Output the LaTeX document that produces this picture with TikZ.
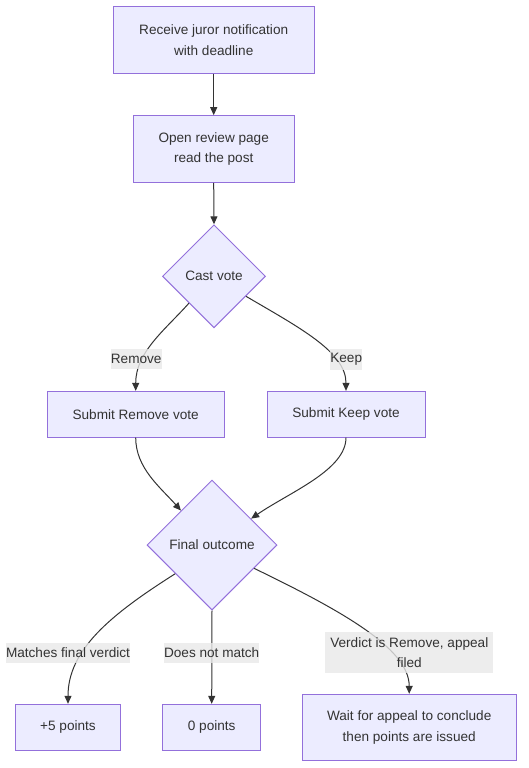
\documentclass[tikz,border=0pt]{standalone}
\usepackage{fontspec}
\setmainfont{Liberation Sans}
\usetikzlibrary{shapes.geometric,arrows.meta}
\definecolor{nodefill}{HTML}{ECECFF}
\definecolor{nodeline}{HTML}{9370DB}
\definecolor{ink}{HTML}{333333}
\definecolor{lblfill}{HTML}{E8E8E8}
\begin{document}
\begin{tikzpicture}[x=1pt,y=-1pt,
  every node/.style={font=\fontsize{13.6}{20.4}\selectfont, text=ink},
  box/.style={draw=nodeline, fill=nodefill, line width=1pt, inner sep=0pt, align=center},
  dia/.style={diamond, shape aspect=1, draw=nodeline, fill=nodefill, line width=1pt, inner sep=0pt},
  lbl/.style={fill=lblfill, fill opacity=0.8, text opacity=1, inner sep=0pt, align=center},
  conn/.style={draw=ink, line width=1pt, -{Triangle[length=8pt,width=7pt]}}
]
\useasboundingbox (0,0) rectangle (528,768);

\node[box, minimum width=200.7pt, minimum height=66.3pt] (A) at (213.7,40) {Receive juror notification\\with deadline};
\node[box, minimum width=161.3pt, minimum height=66.6pt] (B) at (213.7,149) {Open review page\\read the post};
\node[dia, minimum width=103pt, minimum height=103pt] (C) at (214,276.3) {Cast vote};
\node[box, minimum width=177pt, minimum height=45.7pt] (D) at (135.7,414.2) {Submit Remove vote};
\node[box, minimum width=158pt, minimum height=45.7pt] (E) at (346,414.2) {Submit Keep vote};
\node[dia, minimum width=130pt, minimum height=130pt] (F) at (212,545) {Final outcome};
\node[box, minimum width=105.4pt, minimum height=46pt] (G) at (68,727.3) {+5 points};
\node[box, minimum width=98pt, minimum height=46pt] (H) at (211.7,727.3) {0 points};
\node[box, minimum width=213.7pt, minimum height=66.4pt] (I) at (409.2,727.5) {Wait for appeal to conclude\\then points are issued};

\draw[conn] (A.south) -- (B.north);
\draw[conn] (B.south) -- (C.north);
\draw[conn] (C.227) .. controls (165,330) and (135.7,352) .. (D.north);
\draw[conn] (C.328) .. controls (300,328) and (346,352) .. (E.north);
\draw[conn] (D.south) .. controls (135.7,468) and (160,487) .. (F.132);
\draw[conn] (E.south) .. controls (346,470) and (290,492) .. (F.34);
\draw[conn] (F.218) .. controls (110,615) and (68,650) .. (G.north);
\draw[conn] (F.south) -- (H.north);
\draw[conn] (F.331) .. controls (340,610) and (409.2,648) .. (I.north);

\node[lbl, minimum width=51pt, minimum height=20pt] (lr) at (136.2,359) {Remove};
\node[lbl, minimum width=32.3pt, minimum height=20.7pt] (lk) at (346.2,359.7) {Keep};
\node[lbl, minimum width=122.6pt, minimum height=20pt] (lm) at (68,652.7) {Matches final verdict};
\node[lbl, minimum width=94pt, minimum height=20pt] (ln) at (211.7,652.7) {Does not match};
\node[lbl, minimum width=168pt, minimum height=40.4pt] (lv) at (409.3,652.5) {Verdict is Remove, appeal\\filed};
\end{tikzpicture}
\end{document}
